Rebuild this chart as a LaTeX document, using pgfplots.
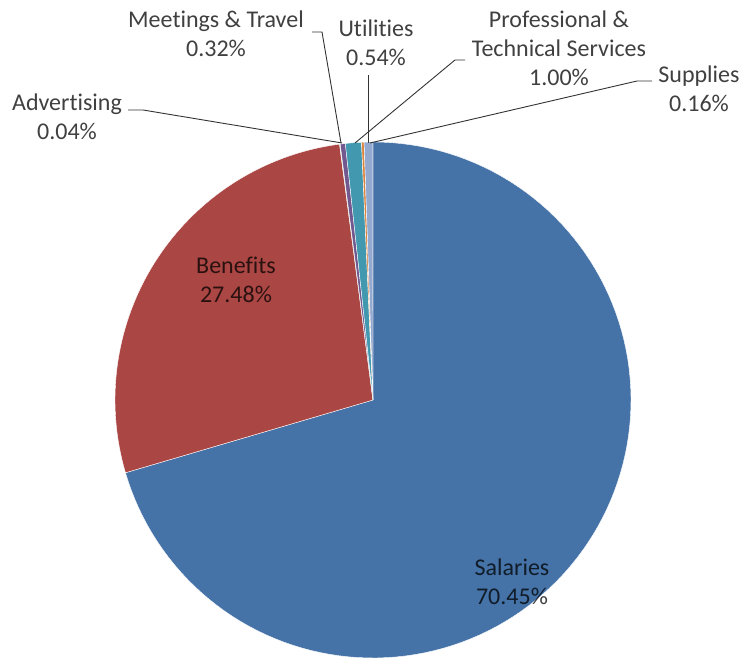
\documentclass[border=0pt]{standalone}
\usepackage{pgfplots}
\pgfplotsset{compat=1.18}
\usepackage{pgfplotstable}
\usepackage{fontspec}
\setmainfont{Carlito}[Ligatures=NoCommon]

% slice colours, in the order of the rows below
\definecolor{slice0}{HTML}{4572A7}
\definecolor{slice1}{HTML}{AA4643}
\definecolor{slice2}{HTML}{89A54E}
\definecolor{slice3}{HTML}{71588F}
\definecolor{slice4}{HTML}{4198AF}
\definecolor{slice5}{HTML}{DB843D}
\definecolor{slice6}{HTML}{93A9CF}
\definecolor{labeltext}{HTML}{404040}

\tikzset{
  lbl/.style={font=\fontsize{24bp}{29bp}\selectfont, align=center, inner sep=0pt, text=labeltext},
  inlbl/.style={lbl, text=black, text opacity=0.75},
  leader/.style={mark=none, color=black!80, line width=0.9bp},
}

% share of expenses, in percent, clockwise from 12 o'clock
\pgfplotstableread{
key value
Salaries 70.45
Benefits 27.48
Advertising 0.04
Meetings 0.32
Professional 1.00
Supplies 0.16
Utilities 0.54
}\expenses

\begin{document}
\begin{tikzpicture}
\begin{axis}[
  width=745bp, height=662bp, scale only axis,
  xmin=0, xmax=745, ymin=0, ymax=662,
  axis line style={draw=none}, ticks=none, clip=false,
]
% wedges: centre (373,262), radius 258
\pgfmathsetmacro{\acc}{0}
\pgfplotsforeachungrouped \i in {0,...,6}{%
  \pgfplotstablegetelem{\i}{value}\of\expenses
  \pgfmathsetmacro{\start}{3.6*\acc}%
  \pgfmathsetmacro{\acc}{\acc+\pgfplotsretval}%
  \pgfmathsetmacro{\stop}{3.6*\acc}%
  \edef\slice{\noexpand\addplot[mark=none, fill=slice\i, draw=white, line width=0.4bp,
      domain=\start:\stop, samples=120]
      ({373+258*sin(x)}, {262+258*cos(x)}) -- (axis cs:373,262) -- cycle;}%
  \slice
}

% leader lines to the outside labels
\addplot[leader] coordinates {(128,552) (143,552) (342,519)};
\addplot[leader] coordinates {(312,630) (322,630) (341,519)};
\addplot[leader] coordinates {(368,587) (368,519)};
\addplot[leader] coordinates {(465,602) (455,602) (355,519)};
\addplot[leader] coordinates {(652,581) (637,581) (370,519)};

% labels
\node[lbl] at (axis cs:67,545) {Advertising\\0.04\%};
\node[lbl] at (axis cs:216,628) {Meetings \& Travel\\0.32\%};
\node[lbl] at (axis cs:376,619) {Utilities\\0.54\%};
\node[lbl] at (axis cs:559,614) {Professional \&\\Technical Services\\1.00\%};
\node[lbl] at (axis cs:699,573) {Supplies\\0.16\%};
\node[inlbl] at (axis cs:236,382) {Benefits\\27.48\%};
\node[inlbl] at (axis cs:512,80) {Salaries\\70.45\%};
\end{axis}
\end{tikzpicture}
\end{document}
